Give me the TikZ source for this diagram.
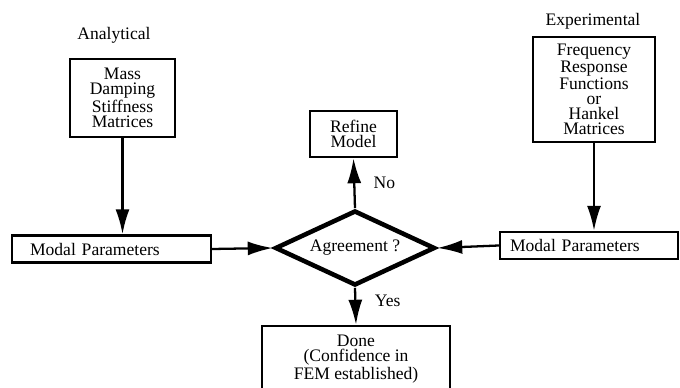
\documentclass[tikz,border=0pt]{standalone}
\usepackage{fontspec}
\setmainfont{Liberation Serif}
\usetikzlibrary{arrows.meta,shapes.geometric}
\tikzset{
    boite/.style={draw,line width=1.4pt,align=center,inner sep=0pt,font=\fontsize{10}{8.5}\selectfont},
    fleche/.style={line width=1.3pt,-{Latex[length=0.5cm,width=0.28cm]}}
}
\begin{document}
\begin{tikzpicture}[x=0.02cm,y=-0.02cm]
        \useasboundingbox (0,0) rectangle (680,388);
        \node (analytique) at (114,35) {Analytical}; %Titre gauche
        \node (experience) at (593,21) {Experimental}; %Titre droit
        \node [boite,minimum width=2.1cm,minimum height=1.56cm] (masse) at (122.5,98) {Mass\\Damping\\Stiffness\\Matrices};
        \node [boite,minimum width=2.44cm,minimum height=2.1cm] (freq) at (594,89.5) {Frequency\\Response\\Functions\\or\\Hankel\\Matrices};
        \node [boite,minimum width=1.74cm,minimum height=0.92cm] (raffine) at (353.5,134) {Refine\\Model};
        \node [boite,align=left,inner xsep=0.36cm,text width=3.26cm,minimum height=0.54cm] (modg) at (111.5,249) {Modal Parameters}; %Modal gauche
        \node [boite,align=left,inner xsep=0.2cm,text width=3.16cm,minimum height=0.54cm] (modd) at (589,245.5) {Modal Parameters}; %Modal droit
        \node [boite,diamond,aspect=2.1,line width=2.6pt,minimum width=3.2cm,minimum height=1.5cm] (accord) at (355,248) {Agreement ?};
        \node [boite,minimum width=3.76cm,minimum height=1.32cm] (fini) at (356,359) {Done\\(Confidence in\\FEM established)};
        \draw [fleche] (masse.south) -- (masse.south |- modg.north);
        \draw [fleche] (freq.south) -- (freq.south |- modd.north);
        \draw [fleche] (modg.east) -- (accord.west);
        \draw [fleche] (modd.west) -- (accord.east);
        \draw [fleche] (accord.north) -- node [midway,right,xshift=0.25cm] {No} (raffine.south);
        \draw [fleche] (accord.south) -- node [midway,right,xshift=0.25cm,yshift=0.1cm] {Yes} (fini.north);
    \end{tikzpicture}
\end{document}
